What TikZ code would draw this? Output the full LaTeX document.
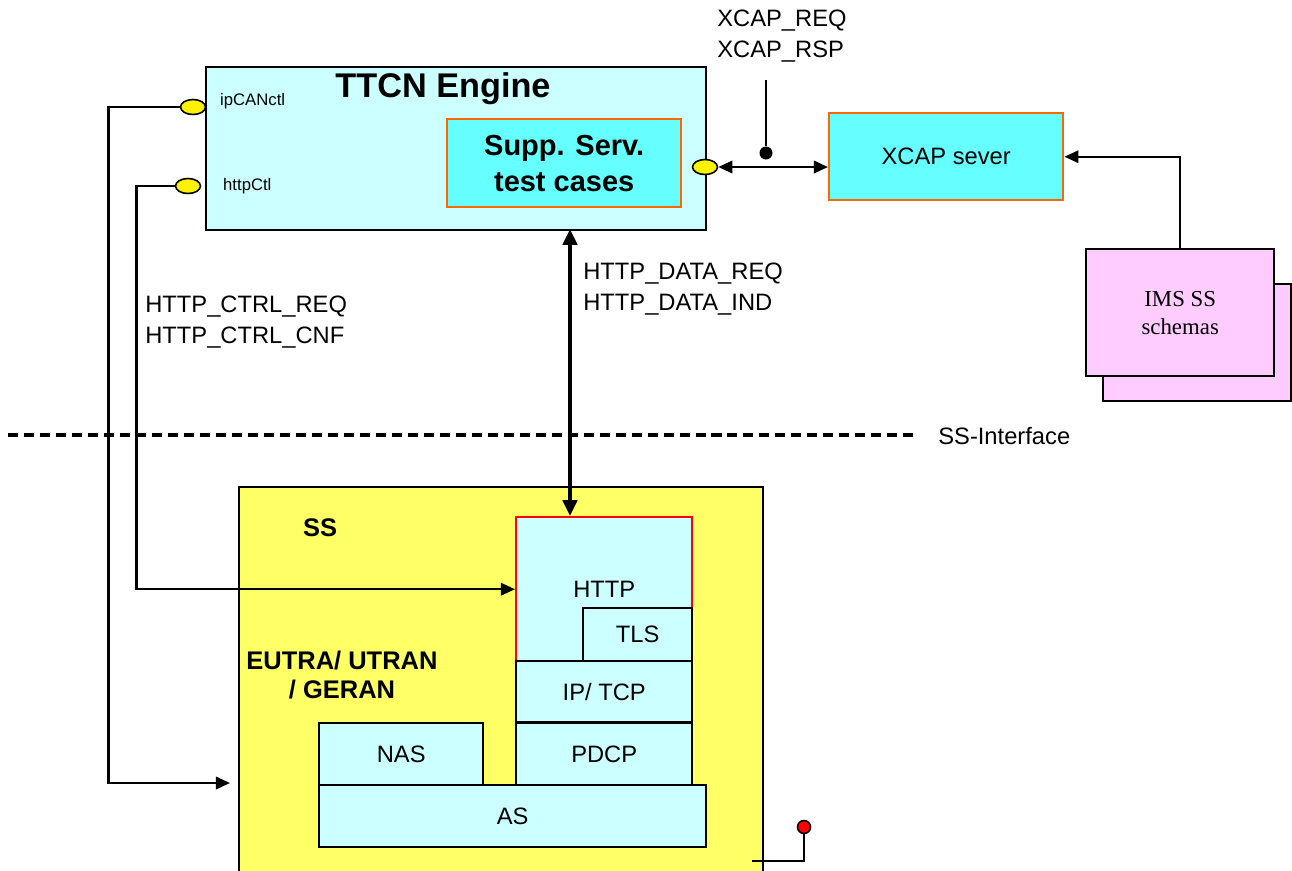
\documentclass[tikz,border=0pt]{standalone}
\usepackage{fontspec}
\setmainfont{Liberation Sans}
\newfontfamily\timesfont{Liberation Serif}
\usetikzlibrary{shapes.geometric,arrows.meta}
\definecolor{paleblue}{HTML}{CCFFFF}
\definecolor{brightcyan}{HTML}{66FFFF}
\definecolor{ssyellow}{HTML}{FFFF66}
\definecolor{schemapink}{HTML}{FFCCFF}
\definecolor{boxorange}{HTML}{FF6600}
\tikzset{
  box/.style={draw, line width=1.4pt, anchor=north west, inner sep=0pt},
  layer/.style={box, fill=paleblue, font=\fontsize{13.5}{15}\selectfont},
  port/.style={ellipse, draw, fill=yellow, line width=0.9pt, minimum width=0.5cm, minimum height=0.3cm, inner sep=0pt},
  sig/.style={line width=1.4pt, -{Triangle[length=8pt,width=7pt]}},
  bisig/.style={line width=1.4pt, {Triangle[length=8pt,width=7pt]}-{Triangle[length=8pt,width=7pt]}},
  txt/.style={font=\fontsize{13.5}{18}\selectfont, align=left, inner sep=0pt},
}
\begin{document}
\begin{tikzpicture}[x=0.02cm, y=-0.02cm]
\useasboundingbox (0,0) rectangle (1292,870);
\node[box, fill=ssyellow, minimum width=10.48cm, minimum height=7.8cm] (ss) at (238,486) {};
\node[font=\bfseries\fontsize{14.5}{16}\selectfont] (sslabel) at (320,528) {SS};
\node[font=\bfseries\fontsize{14.5}{17}\selectfont, align=center] (ran) at (342,675) {EUTRA/ UTRAN\\/ GERAN};
\node[layer, draw=red, minimum width=3.52cm, minimum height=2.88cm] (http) at (515,516) {HTTP};
\node[layer, minimum width=2.18cm, minimum height=1.06cm] (tls) at (582,607) {TLS};
\node[layer, minimum width=3.52cm, minimum height=1.22cm] (iptcp) at (515,660) {IP/ TCP};
\node[layer, minimum width=3.52cm, minimum height=1.24cm] (pdcp) at (515,722) {PDCP};
\node[layer, minimum width=3.28cm, minimum height=1.24cm] (nas) at (318,722) {NAS};
\node[layer, minimum width=7.74cm, minimum height=1.24cm] (as) at (318,784) {AS};
\node[box, fill=paleblue, minimum width=10cm, minimum height=3.26cm] (ttcn) at (205,66) {};
\node[font=\bfseries\fontsize{19.5}{21}\selectfont] (ttcntitle) at (443,89) {TTCN Engine};
\node[box, draw=boxorange, fill=brightcyan, minimum width=4.68cm, minimum height=1.76cm] (supp) at (446,118) {};
\node[font=\bfseries\fontsize{16.5}{20.5}\selectfont, align=center] (supptext) at (supp.center) {Supp. Serv.\\test cases};
\node[port] (ipcan) at (193,107) {};
\node[port] (httpport) at (188,186) {};
\node[port] (xcapport) at (705,167) {};
\node[font=\fontsize{9.5}{11}\selectfont, anchor=west] (ipcanlabel) at (214,101) {ipCANctl};
\node[font=\fontsize{9.5}{11}\selectfont, anchor=west] (httplabel) at (217,186) {httpCtl};
\node[box, draw=boxorange, fill=brightcyan, minimum width=4.68cm, minimum height=1.74cm, font=\fontsize{13.5}{15}\selectfont] (xcap) at (828,112) {XCAP sever};
\node[box, fill=schemapink, minimum width=3.76cm, minimum height=2.34cm] (schemaback) at (1102,283) {};
\node[box, fill=schemapink, minimum width=3.76cm, minimum height=2.54cm, align=center, font=\timesfont\fontsize{13}{16}\selectfont] (schemafront) at (1085,248) {IMS SS\\schemas};
\node[txt, anchor=west] (xcapsig) at (717,36) {XCAP\_REQ\\XCAP\_RSP};
\node[txt, anchor=west] (datasig) at (583,289) {HTTP\_DATA\_REQ\\HTTP\_DATA\_IND};
\node[txt, anchor=west] (ctrlsig) at (145,322) {HTTP\_CTRL\_REQ\\HTTP\_CTRL\_CNF};
\node[txt, anchor=west] (ssiface) at (938,436) {SS-Interface};
\node[circle, fill, inner sep=0pt, minimum size=0.26cm] (xcapdot) at (766,153) {};
\node[circle, draw, fill=red, line width=0.9pt, inner sep=0pt, minimum size=0.26cm] (pin) at (804,827) {};
\coordinate (xcapstalk) at (766,80);
\coordinate (ssentry) at (230,783);
\coordinate (datatop) at (570,229);
\coordinate (databot) at (570,516);
\coordinate (dashstart) at (8,435);
\coordinate (dashend) at (915,435);
\coordinate (pinfoot) at (752,861);
\draw[line width=2.5pt, dash pattern=on 5.7pt off 3.4pt] (dashstart) -- (dashend);
\draw[sig] (ipcan.west) -- ++(-71,0) |- (ssentry);
\draw[sig] (httpport.west) -- ++(-38,0) |- (http.west);
\draw[line width=2.5pt, {Triangle[length=9pt,width=8pt]}-{Triangle[length=9pt,width=8pt]}] (datatop) -- (databot);
\draw[bisig] (xcapport.east) -- (xcapport.east -| xcap.west);
\draw[line width=1.4pt] (xcapstalk) -- (xcapdot);
\draw[sig] (schemafront.north) |- (xcap.east);
\draw[line width=1.4pt] (pinfoot) -| (pin);
\end{tikzpicture}
\end{document}
